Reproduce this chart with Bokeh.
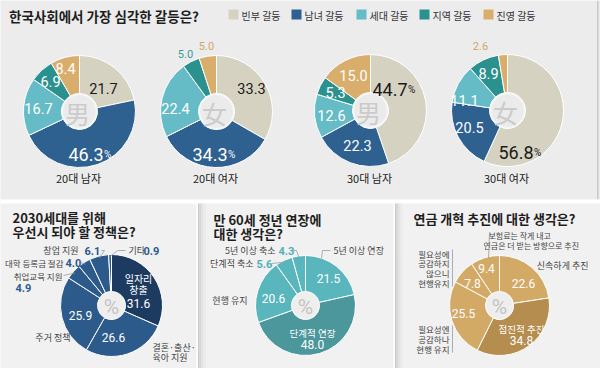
import math
from bokeh.plotting import figure
from bokeh.models import Range1d
from bokeh.core.properties import value
from bokeh.embed import file_html
from bokeh.resources import INLINE

# ---------------- data ----------------
conflict_types = ["빈부 갈등", "남녀 갈등", "세대 갈등", "지역 갈등", "진영 갈등"]
group_names = ["20대 남자", "20대 여자", "30대 남자", "30대 여자"]
group_marks = ["男", "女", "男", "女"]
men_20s = [21.7, 46.3, 16.7, 6.9, 8.4]
women_20s = [33.3, 34.3, 22.4, 5.0, 5.0]
men_30s = [44.7, 22.3, 12.6, 5.3, 15.0]
women_30s = [56.8, 20.5, 11.1, 8.9, 2.6]

policy_title = ["2030세대를 위해", "우선시 되야 할 정책은?"]
policy_items = ["일자리 창출", "결혼·출산·육아 지원", "주거 정책", "취업교육 지원",
                "대학 등록금 절감", "창업 지원", "기타"]
policy_values = [31.6, 26.6, 25.9, 4.9, 4.0, 6.1, 0.9]

retire_title = ["만 60세 정년 연장에", "대한 생각은?"]
retire_items = ["5년 이상 연장", "단계적 연장", "현행 유지", "단계적 축소", "5년 이상 축소"]
retire_values = [21.5, 48.0, 20.6, 5.6, 4.3]

pension_title = ["연금 개혁 추진에 대한 생각은?"]
pension_items = ["신속하게 추진", "점진적 추진", "필요성엔 공감하나 현행 유지",
                 "필요성에 공감하지 않으니 현행유지", "보험료는 작게 내고 연금은 더 받는 방향으로 추진"]
pension_values = [22.6, 34.8, 25.5, 7.8, 9.4]

main_title = "한국사회에서 가장 심각한 갈등은?"

# ---------------- styles ----------------
conflict_colors = ["#d6d2c1", "#2e6090", "#65bcc6", "#2b918f", "#d9ad6b"]
KR = value("Noto Sans CJK KR")
NUM = value("Roboto")

W, H = 600, 368
p = figure(width=W, height=H, x_range=Range1d(0, W), y_range=Range1d(-H, 0),
           output_backend="svg", toolbar_location=None,
           x_axis_location=None, y_axis_location=None, min_border=0)
p.grid.visible = False
p.outline_line_color = None
p.background_fill_color = "#f1f1f1"
p.border_fill_color = "#f1f1f1"


def Y(v):
    return -v


def put(x, y, s, size, color, align="center", font=KR, bold=False, baseline="middle"):
    p.text(x=[x], y=[Y(y)], text=[s], text_font=font, text_font_size=f"{size}px",
           text_color=color, text_align=align, text_baseline=baseline,
           text_font_style="bold" if bold else "normal")


def seg(xs, ys, color="#9c9c9c", width=0.8):
    p.line(x=xs, y=[Y(v) for v in ys], line_color=color, line_width=width)


def box(l, r, t, b, color):
    p.quad(left=[l], right=[r], top=[Y(t)], bottom=[Y(b)], fill_color=color, line_color=None)


def pie(cx, cy, vals, colors, r_in, r_out):
    total = sum(vals)
    starts, ends, mids = [], [], []
    cum = 0.0
    for v in vals:
        a0 = cum / total
        cum += v
        a1 = cum / total
        starts.append(math.pi / 2 - 2 * math.pi * a1)
        ends.append(math.pi / 2 - 2 * math.pi * a0)
        mids.append(math.pi / 2 - 2 * math.pi * (a0 + a1) / 2)
    n = len(vals)
    p.annular_wedge(x=[cx] * n, y=[Y(cy)] * n, inner_radius=r_in, outer_radius=r_out,
                    start_angle=starts, end_angle=ends, fill_color=colors,
                    line_color="white", line_width=1)
    return mids


def edge(cx, cy, ang, r):
    return cx + r * math.cos(ang), cy - r * math.sin(ang)


# ---------------- backgrounds ----------------
box(0, 600, 0, 199, "#ececec")
box(596.5, 598, 0, 199, "#c8c8c8")
box(0, 600, 199, 203, "#ffffff")
for sx in (196, 393):
    box(sx, sx + 1.5, 203, 368, "#ffffff")
    box(sx + 1.5, sx + 3, 203, 368, "#c9c9c9")
    box(sx + 3, sx + 5, 203, 368, "#d7d7d7")
    box(sx + 5, sx + 7, 203, 368, "#e3e3e3")
    box(sx + 7, sx + 9, 203, 368, "#ebebeb")

# ---------------- top: title + legend ----------------
put(8.5, 15, main_title, 13.5, "#1e1e1e", align="left", bold=True)
legend_x = [228, 291, 356, 419, 483]
for lx, name, col in zip(legend_x, conflict_types, conflict_colors):
    box(lx, lx + 10, 9, 19, col)
    put(lx + 13, 14.5, name, 10, "#333333", align="left")

# ---------------- top pies ----------------
top_series = [men_20s, women_20s, men_30s, women_30s]
top_centers = [(79, 111), (216, 111), (370, 110), (507, 110)]
top_label_offsets = [
    [(24, -23), (24, 36), (-41, -3), (-29, -30), (-14, -43)],
    [(35, -23), (11, 36), (-41, -3), (-31, -58), (-10, -66)],
    [(37, -28), (-13, 35), (-39, 5), (-35, -18), (-17, -35)],
    [(26, 35), (-38, 17), (-43, -10), (-19, -37), (-27, -65)],
]
outside_colors = {2: "#3a9c9a", 3: "#3a9c9a", 4: "#d2a764"}
for vals, (cx, cy), offs, gname, mark in zip(top_series, top_centers, top_label_offsets,
                                             group_names, group_marks):
    pie(cx, cy, vals, conflict_colors, 18, 56)
    p.circle(x=[cx], y=[Y(cy)], radius=17, fill_color="#ebebeb", line_color="#f6f6f6", line_width=1.5)
    put(cx - 2, cy + 1, mark, 25, "#cbcbcb")
    big = vals.index(max(vals))
    for i, (v, (dx, dy)) in enumerate(zip(vals, offs)):
        s = f"{v:.1f}"
        if i == big:
            col = "#1a1a1a" if i == 0 else "#ffffff"
            put(cx + dx, cy + dy + 6.5, s, 18, col, align="right", font=NUM, baseline="alphabetic")
            put(cx + dx + 0.5, cy + dy + 6.5, "%", 10, col, align="left", font=NUM, baseline="alphabetic")
        elif v < 5.2:
            put(cx + dx, cy + dy, s, 11, outside_colors[i], font=NUM)
        else:
            col = "#1a1a1a" if i == 0 else "#ffffff"
            put(cx + dx, cy + dy, s, 14.5, col, font=NUM)
    put(cx - 1, 177, gname, 11, "#222222")

# ---------------- bottom panels ----------------
LBL = "#444444"

# panel 1
for k, t in enumerate(policy_title):
    put(12, 217 + 14 * k, t, 13, "#1e1e1e", align="left", bold=True)
p1c = (111, 305)
p1_colors = ["#1d3b60"] + ["#2c5b8b"] * 6
m1 = pie(p1c[0], p1c[1], policy_values, p1_colors, 14, 51)
p.circle(x=[p1c[0]], y=[Y(p1c[1])], radius=13, fill_color="#eeeeee", line_color=None)
put(p1c[0], p1c[1] + 1, "%", 21, "#c4c4c4", font=NUM)
put(138, 278, "일자리", 10, "#ffffff")
put(138, 289, "창출", 10, "#ffffff")
put(138, 303, f"{policy_values[0]:.1f}", 12, "#ffffff", font=NUM)
put(113, 337, f"{policy_values[1]:.1f}", 12, "#ffffff", font=NUM)
put(80, 315, f"{policy_values[2]:.1f}", 12, "#ffffff", font=NUM)
PB = "#2c5b8b"
put(152, 347, "결혼·출산·", 9, LBL, align="left")
put(152, 357, "육아 지원", 9, LBL, align="left")
put(70, 337, policy_items[2], 9, LBL, align="right")
put(62, 275, policy_items[3], 8.5, LBL, align="right")
put(15, 287, f"{policy_values[3]:.1f}", 11, PB, align="left", font=NUM, bold=True)
put(63, 262, policy_items[4], 8.5, LBL, align="right")
put(65, 262, f"{policy_values[4]:.1f}", 11, PB, align="left", font=NUM, bold=True)
put(78, 250, policy_items[5], 9, LBL, align="right")
put(84, 250, f"{policy_values[5]:.1f}", 11, PB, align="left", font=NUM, bold=True)
put(128, 250, policy_items[6], 9, LBL, align="left")
put(143, 250, f"{policy_values[6]:.1f}", 11, PB, align="left", font=NUM, bold=True)
ex, ey = edge(p1c[0], p1c[1], m1[5], 49)
seg([101, 104, ex], [250, 250, ey])
ex, ey = edge(p1c[0], p1c[1], m1[6], 49)
seg([125, 117, ex], [250, 250, ey])
ex, ey = edge(p1c[0], p1c[1], m1[4], 49)
seg([80, ex], [262, ey])
ex, ey = edge(p1c[0], p1c[1], m1[3], 49)
seg([63, ex], [275, ey])

# panel 2
for k, t in enumerate(retire_title):
    put(213, 219 + 13.5 * k, t, 13, "#1e1e1e", align="left", bold=True)
p2c = (305, 305)
p2_colors = ["#5ab6bd", "#4b979b", "#5ab6bd", "#5ab6bd", "#5ab6bd"]
m2 = pie(p2c[0], p2c[1], retire_values, p2_colors, 14, 50)
p.circle(x=[p2c[0]], y=[Y(p2c[1])], radius=13, fill_color="#eeeeee", line_color=None)
put(p2c[0], p2c[1] + 1, "%", 21, "#c4c4c4", font=NUM)
put(328, 278, f"{retire_values[0]:.1f}", 12, "#ffffff", font=NUM)
put(312, 332, retire_items[1], 9.5, "#ffffff")
put(312, 344, f"{retire_values[1]:.1f}", 12, "#ffffff", font=NUM)
put(273, 298, f"{retire_values[2]:.1f}", 12, "#ffffff", font=NUM)
PT = "#4fb0b8"
put(333, 250, retire_items[0], 9, LBL, align="left")
put(247, 300, retire_items[2], 9, LBL, align="right")
put(253, 263, retire_items[3], 9, LBL, align="right")
put(256, 263, f"{retire_values[3]:.1f}", 11, PT, align="left", font=NUM, bold=True)
put(275, 250, retire_items[4], 9, LBL, align="right")
put(278, 250, f"{retire_values[4]:.1f}", 11, PT, align="left", font=NUM, bold=True)
ex, ey = edge(p2c[0], p2c[1], m2[4], 48)
seg([292, 296, ex], [250, 250, ey])
seg([330, 322, 321], [250, 250, 258])
ex, ey = edge(p2c[0], p2c[1], m2[3], 48)
seg([271, ex], [263, ey])

# panel 3
put(413, 218, pension_title[0], 13, "#1e1e1e", align="left", bold=True)
p3c = (499, 305)
p3_colors = ["#d3a966", "#b58d4e", "#d3a966", "#d3a966", "#d3a966"]
m3 = pie(p3c[0], p3c[1], pension_values, p3_colors, 14, 50)
p.circle(x=[p3c[0]], y=[Y(p3c[1])], radius=13, fill_color="#eeeeee", line_color=None)
put(p3c[0], p3c[1] + 1, "%", 21, "#c4c4c4", font=NUM)
put(523, 283, f"{pension_values[0]:.1f}", 12, "#ffffff", font=NUM)
put(521, 328, pension_items[1], 9.5, "#ffffff")
put(521, 340, f"{pension_values[1]:.1f}", 12, "#ffffff", font=NUM)
put(463, 313, f"{pension_values[2]:.1f}", 12, "#ffffff", font=NUM)
put(472, 283, f"{pension_values[3]:.1f}", 12, "#ffffff", font=NUM)
put(486, 268, f"{pension_values[4]:.1f}", 12, "#ffffff", font=NUM)
put(588, 265, pension_items[0], 9, LBL, align="right")
for k, t in enumerate(["필요성엔", "공감하나", "현행 유지"]):
    put(449, 328 + 10 * k, t, 8.5, LBL, align="right")
for k, t in enumerate(["필요성에", "공감하지", "않으니", "현행유지"]):
    put(449, 253 + 9.7 * k, t, 8.5, LBL, align="right")
put(488, 235, "보험료는 작게 내고", 8, LBL, align="left")
put(483, 245, "연금은 더 받는 방향으로 추진", 8, LBL, align="left")
seg([452, 452], [249, 286])
seg([452, 452], [325, 352])
seg([489, 488], [232, 258])

open("out.html", "w").write(file_html(p, INLINE))
